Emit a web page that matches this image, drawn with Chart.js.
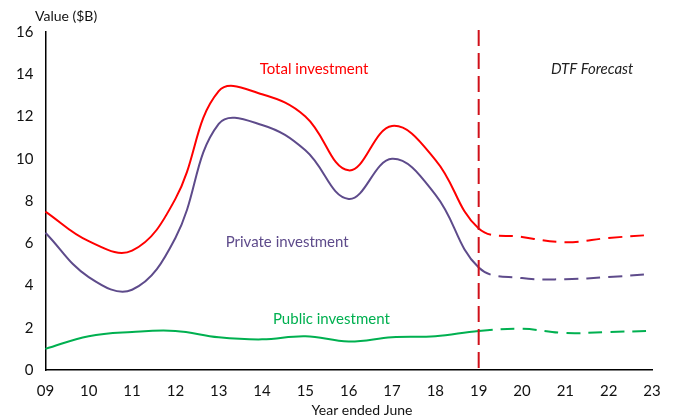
<!DOCTYPE html>
<html>
<head>
<meta charset="utf-8">
<script src="https://cdn.jsdelivr.net/npm/chart.js@4"></script>
<style>
  html, body { margin: 0; padding: 0; background: #fff; }
  #wrap { width: 676px; height: 419px; position: relative; }
</style>
</head>
<body>
<div id="wrap"><canvas id="myChart" width="676" height="419"></canvas></div>
<script>
'use strict';

// data
const years = ['09', '10', '11', '12', '13', '14', '15', '16', '17', '18', '19', '20', '21', '22', '23'];
const total = [7.5, 6.1, 5.65, 8.1, 13.2, 13.05, 12.0, 9.45, 11.55, 9.95, 6.7, 6.3, 6.05, 6.25, 6.4];
const privateInv = [6.5, 4.4, 3.8, 6.25, 11.65, 11.6, 10.4, 8.1, 10.0, 8.3, 4.85, 4.35, 4.3, 4.4, 4.55];
const publicInv = [1.0, 1.6, 1.8, 1.85, 1.55, 1.45, 1.6, 1.35, 1.55, 1.6, 1.85, 1.95, 1.75, 1.8, 1.85];
const yTicks = [0, 2, 4, 6, 8, 10, 12, 14, 16];
const forecastFrom = '19';

const fontFamily = 'Lato, "Open Sans", sans-serif';
const forecastIdx = years.indexOf(forecastFrom);

// dashed after the forecast start
function lineSet(label, data, colour) {
  return {
    label: label,
    data: data,
    borderColor: colour,
    borderWidth: 2,
    pointRadius: 0,
    tension: 0.4,
    fill: false,
    segment: {
      borderDash: ctx => ctx.p0DataIndex >= forecastIdx ? [14, 8] : undefined
    }
  };
}

// vertical forecast line, in-chart labels and axis titles
const extras = {
  id: 'extras',
  afterDatasetsDraw(chart) {
    const c = chart.ctx;
    const x = chart.scales.x;
    const y = chart.scales.y;
    const xf = x.getPixelForValue(forecastIdx);

    c.save();
    c.strokeStyle = '#d0101a';
    c.lineWidth = 2;
    c.setLineDash([16, 7]);
    c.beginPath();
    c.moveTo(xf, y.getPixelForValue(16.1));
    c.lineTo(xf, y.getPixelForValue(0));
    c.stroke();
    c.setLineDash([]);

    c.textAlign = 'center';
    c.textBaseline = 'middle';
    c.font = '15px ' + fontFamily;
    c.fillStyle = '#ff0000';
    c.fillText('Total investment', x.getPixelForValue(6.2), y.getPixelForValue(14.24));
    c.fillStyle = '#5e4b8b';
    c.fillText('Private investment', x.getPixelForValue(5.58), y.getPixelForValue(6.05));
    c.fillStyle = '#00b050';
    c.fillText('Public investment', x.getPixelForValue(6.6), y.getPixelForValue(2.43));
    c.fillStyle = '#222';
    c.font = 'italic 15px ' + fontFamily;
    c.fillText('DTF Forecast', x.getPixelForValue(12.62), y.getPixelForValue(14.24));

    c.fillStyle = '#111';
    c.font = '14px ' + fontFamily;
    c.fillText('Year ended June', 362, 410);
    c.textAlign = 'left';
    c.fillText('Value ($B)', 35, 16);
    c.restore();
  }
};

Chart.defaults.font.family = fontFamily;
Chart.defaults.color = '#222';

const ctx = document.getElementById('myChart').getContext('2d');
const myChart = new Chart(ctx, {
  type: 'line',
  data: {
    labels: years,
    datasets: [
      lineSet('Total investment', total, '#ff0000'),
      lineSet('Private investment', privateInv, '#5e4b8b'),
      lineSet('Public investment', publicInv, '#00b050')
    ]
  },
  options: {
    responsive: false,
    animation: false,
    layout: { padding: { left: 4, right: 24, top: 32, bottom: 7 } },
    plugins: {
      legend: { display: false },
      tooltip: { enabled: false }
    },
    scales: {
      x: {
        offset: false,
        grid: { display: false, drawTicks: false },
        border: { color: '#000', width: 1.5 },
        ticks: { font: { size: 15 }, color: '#111', padding: 12, maxRotation: 0 }
      },
      y: {
        min: 0,
        max: 16,
        afterBuildTicks: axis => { axis.ticks = yTicks.map(v => ({ value: v })); },
        grid: { display: false, drawTicks: false },
        border: { color: '#000', width: 1.5 },
        ticks: { font: { size: 15 }, color: '#111', padding: 12 }
      }
    }
  },
  plugins: [extras]
});
</script>
</body>
</html>
